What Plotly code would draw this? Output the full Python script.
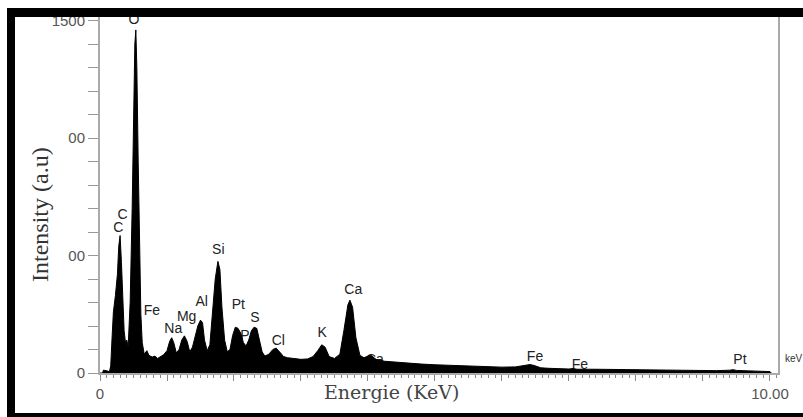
import plotly.graph_objects as go

# ---- spectrum data (keV, counts) ----
energy_kev = [0.00, 0.04, 0.05, 0.08, 0.10, 0.14, 0.16, 0.18, 0.20, 0.23, 0.26, 0.28, 0.30, 0.32, 0.34,
              0.36, 0.38, 0.40, 0.42, 0.45, 0.48, 0.50, 0.52, 0.535, 0.55, 0.57, 0.59, 0.61, 0.63,
              0.66, 0.70, 0.73, 0.78, 0.82, 0.86, 0.90, 0.95, 1.00, 1.04, 1.07, 1.10, 1.14, 1.18,
              1.22, 1.26, 1.30, 1.34, 1.38, 1.42, 1.46, 1.50, 1.53, 1.56, 1.60, 1.64, 1.68, 1.72,
              1.76, 1.79, 1.82, 1.86, 1.90, 1.94, 1.98, 2.02, 2.06, 2.10, 2.14, 2.18, 2.22, 2.26,
              2.30, 2.34, 2.38, 2.42, 2.46, 2.52, 2.58, 2.63, 2.68, 2.74, 2.80, 2.90, 3.00, 3.10,
              3.18, 3.25, 3.31, 3.36, 3.42, 3.50, 3.58, 3.64, 3.70, 3.73, 3.77, 3.82, 3.88, 3.94,
              4.00, 4.05, 4.12, 4.25, 4.40, 4.60, 4.80, 5.00, 5.20, 5.40, 5.60, 5.80, 6.00, 6.20,
              6.35, 6.42, 6.48, 6.58, 6.70, 6.85, 7.00, 7.06, 7.12, 7.40, 7.70, 8.00, 8.30, 8.60,
              8.90, 9.20, 9.40, 9.45, 9.50, 9.70, 9.90, 10.00, 10.02]
counts = [0, 0, 12, 12, 10, 5, 30, 150, 260, 330, 420, 540, 585, 470, 300,
          180, 130, 140, 110, 300, 700, 1150, 1400, 1460, 1300, 900, 500, 250, 130,
          80, 95, 75, 68, 72, 62, 70, 78, 95, 135, 150, 130, 85, 100,
          140, 158, 135, 90, 110, 150, 200, 225, 215, 140, 95, 120, 250, 400,
          475, 440, 280, 140, 90, 100, 160, 195, 190, 170, 130, 115, 140, 180,
          195, 190, 140, 90, 72, 80, 100, 106, 90, 70, 65, 62, 58, 60,
          70, 95, 120, 110, 70, 62, 80, 180, 290, 310, 280, 150, 75, 65,
          72, 74, 58, 50, 46, 42, 38, 35, 33, 30, 28, 26, 25, 26,
          32, 36, 32, 22, 20, 18, 17, 19, 16, 16, 15, 13, 12, 11,
          10, 10, 12, 14, 11, 9, 8, 6, 0]

# ---- element labels ----
label_text = ["O", "C", "C", "Fe", "Na", "Mg", "Al", "Si", "Pt", "S", "P", "Cl", "K", "Ca", "Ca", "Fe", "Fe", "Pt"]
label_kev = [0.507, 0.336, 0.273, 0.776, 1.094, 1.294, 1.518, 1.766, 2.064, 2.313, 2.164, 2.661, 3.318, 3.781, 4.104, 6.493, 7.164, 9.552]
label_cnt = [1500, 672, 617, 260, 187, 238, 298, 523, 289, 234, 157, 132, 166, 349, 55, 68, 34, 55]

# ---- tick labels ----
x_tickvals = list(range(0, 11))
x_ticktext = ["0"] + [""] * 9 + ["10.00"]
y_tickvals = list(range(0, 1501, 100))
y_ticktext = ["0" if v == 0 else "00" if v in (500, 1000) else "1500" if v == 1500 else "" for v in y_tickvals]

fig = go.Figure()
fig.add_trace(go.Scatter(
    x=label_kev, y=label_cnt, text=label_text, mode="text",
    textfont=dict(family="Liberation Sans, Arial", size=14, color="#222"),
    hoverinfo="skip", showlegend=False))
fig.add_trace(go.Scatter(
    x=energy_kev, y=counts, mode="lines", fill="tozeroy",
    line=dict(color="black", width=1), fillcolor="black", showlegend=False,
    hoverinfo="skip"))

W, H = 803, 417
L, R, T, B = 100, W - 778, 17, H - 373
pw, ph = W - L - R, H - T - B

def px(xp):  # screen pixel -> paper x
    return (xp - L) / pw

def py(yp):  # screen pixel -> paper y
    return (H - B - yp) / ph

fig.update_layout(
    width=W, height=H,
    margin=dict(l=L, r=R, t=T, b=B),
    paper_bgcolor="white", plot_bgcolor="white",
    showlegend=False,
    xaxis=dict(range=[0, 10.12], showgrid=False, zeroline=False,
               showline=True, linecolor="#aaa", linewidth=2,
               ticks="outside", ticklen=6, tickcolor="#888", tickwidth=1,
               tickvals=x_tickvals, ticktext=x_ticktext,
               tickfont=dict(family="Liberation Sans, Arial", size=15, color="#555"),
               minor=dict(dtick=0.1, tick0=0, ticks="outside", ticklen=3, tickcolor="#888")),
    yaxis=dict(range=[0, 1515], showgrid=False, zeroline=False,
               showline=True, linecolor="#aaa", linewidth=2, mirror=True,
               ticks="outside", ticklen=10, tickcolor="#999", tickwidth=1,
               tickvals=y_tickvals, ticktext=y_ticktext,
               tickfont=dict(family="Liberation Sans, Arial", size=15, color="#555")),
)

# frame (black border around the picture: top, left, bottom)
fig.add_shape(type="rect", xref="paper", yref="paper", x0=px(7), x1=px(803), y0=py(17), y1=py(8),
              fillcolor="black", line_width=0)
fig.add_shape(type="rect", xref="paper", yref="paper", x0=px(7), x1=px(15), y0=py(417), y1=py(8),
              fillcolor="black", line_width=0)
fig.add_shape(type="rect", xref="paper", yref="paper", x0=px(7), x1=px(803), y0=py(417), y1=py(413),
              fillcolor="black", line_width=0)

fig.add_annotation(text="Energie (KeV)", xref="paper", yref="paper", x=px(391), y=py(405),
                   showarrow=False, font=dict(family="DejaVu Serif", size=19, color="#444"))
fig.add_annotation(text="Intensity (a.u)", xref="paper", yref="paper", x=px(25), y=py(215),
                   textangle=-90, showarrow=False,
                   font=dict(family="Liberation Serif, Times New Roman", size=24, color="#333"))
fig.add_annotation(text="keV", xref="paper", yref="paper", x=px(783), y=py(366), xanchor="left",
                   showarrow=False, font=dict(family="Liberation Sans, Arial", size=10, color="#333"))

fig.write_html("out.html", config={"displayModeBar": False},
               post_script="document.body.style.margin='0';"
                           "document.documentElement.style.overflow='hidden';"
                           "document.body.style.overflow='hidden';")
